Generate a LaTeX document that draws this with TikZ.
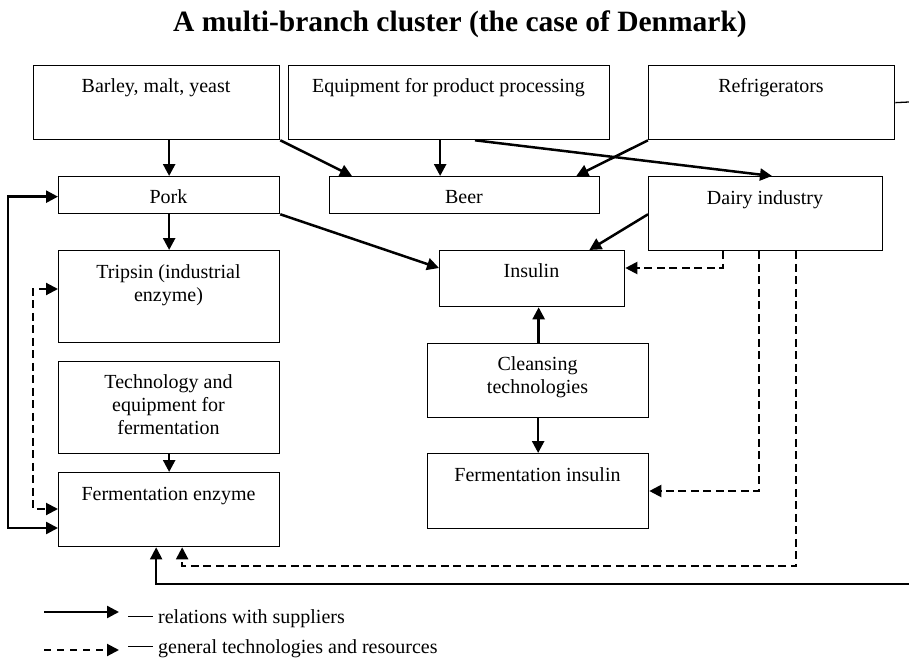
\documentclass[tikz,border=0pt]{standalone}
\usepackage{fontspec}
\setmainfont{Liberation Serif}
\usetikzlibrary{arrows.meta,calc}
\begin{document}
\begin{tikzpicture}[x=1pt,y=-1pt,
  Tri/.tip={Triangle[length=12pt,width=12pt]},
  box/.style 2 args={draw, line width=1.3pt, anchor=north west, inner sep=0pt,
    minimum width=#1, minimum height=#2},
  lbl/.style={font=\fontsize{20}{23}\selectfont, inner sep=0pt, anchor=base},
  sup/.style={line width=2.5pt, -{Tri}},
  gen/.style={line width=2.1pt, dash pattern=on 8pt off 4.5pt, -{Tri}},
  thinsup/.style={line width=1.8pt},
]
\useasboundingbox (0,0) rectangle (909,658);

% title
\node[font=\bfseries\fontsize{29.5}{32}\selectfont, inner sep=0pt, anchor=base] (title)
  at (460,32) {A multi-branch cluster (the case of Denmark)};

% boxes
\node[box={246pt}{74pt}] (barley) at (33,65) {};
\node[box={321pt}{74pt}] (equip) at (288,65) {};
\node[box={246pt}{74pt}] (refrig) at (648,65) {};
\node[box={221pt}{37pt}] (pork) at (58,176) {};
\node[box={270pt}{37pt}] (beer) at (329,176) {};
\node[box={234pt}{74pt}] (dairy) at (648,176) {};
\node[box={221pt}{92pt}] (tripsin) at (58,250) {};
\node[box={221pt}{92pt}] (tech) at (58,361) {};
\node[box={221pt}{74pt}] (enzyme) at (58,472) {};
\node[box={185pt}{56pt}] (insulin) at (439,250) {};
\node[box={221pt}{74pt}] (cleans) at (427,343) {};
\node[box={221pt}{75pt}] (finsulin) at (427,453) {};

% texts
\node[lbl] (tbarley) at (156,93) {Barley, malt, yeast};
\node[lbl] (tequip) at (448.5,93) {Equipment for product processing};
\node[lbl] (trefrig) at (771,93) {Refrigerators};
\node[lbl] (tpork) at (168.5,203) {Pork};
\node[lbl] (tbeer) at (464,203) {Beer};
\node[lbl] (tdairy) at (765,204) {Dairy industry};
\node[lbl] (ttrip) at (168.5,278) {\begin{tabular}[t]{@{}c@{}}Tripsin (industrial\\enzyme)\end{tabular}};
\node[lbl] (ttech) at (168.5,388) {\begin{tabular}[t]{@{}c@{}}Technology and\\equipment for\\fermentation\end{tabular}};
\node[lbl] (tenz) at (168.5,500) {Fermentation enzyme};
\node[lbl] (tins) at (531.5,277) {Insulin};
\node[lbl] (tclean) at (537.5,370) {\begin{tabular}[t]{@{}c@{}}Cleansing\\technologies\end{tabular}};
\node[lbl] (tfins) at (537.5,481) {Fermentation insulin};

% edge coordinates (free ends leaving the picture)
\coordinate (edgeR) at (909,102);
\coordinate (edgeB) at (909,584);

% solid connectors
\draw[sup] (barley.south -| pork.north) -- (pork.north);
\draw[sup] (barley.south east) -- ([xshift=23pt]beer.north west);
\draw[sup] ([xshift=-9pt]equip.south) coordinate (e1) -- (e1 |- beer.north);
\draw[sup] ([xshift=187pt]equip.south west) -- ([xshift=124pt]dairy.north west);
\draw[sup] (refrig.south west) -- ([xshift=-24pt]beer.north east);
\draw[sup] (pork.south) -- (tripsin.north);
\draw[sup] (pork.south east) -- ([yshift=-18pt]insulin.north west);
\draw[sup] ([yshift=37pt]dairy.south west) -- ([xshift=-36pt]insulin.north east);
\draw[sup] ([xshift=0.5pt]cleans.north) coordinate (c1) -- (c1 |- insulin.south);
\draw[sup] (cleans.south) -- (finsulin.north);
\draw[sup] (tech.south) -- (enzyme.north);
\draw[line width=2.5pt, {Tri}-{Tri}] ([yshift=-1.5pt]pork.west) -- ++(-50pt,0)
  |- ([yshift=-56pt]enzyme.north west);
\draw[line width=1.3pt] (refrig.east) -- (edgeR);
\draw[thinsup, -{Tri}] (edgeB) -| ([xshift=-13pt]enzyme.south);

% dashed connectors
\draw[gen] ([xshift=75pt]dairy.south west) |- ([yshift=-18pt]insulin.north east);
\draw[gen] ([xshift=111pt]dairy.south west) |- ([yshift=-38pt]finsulin.north east);
\draw[gen] ([xshift=148pt]dairy.south west) |- ([xshift=13pt,yshift=-19pt]enzyme.south)
  -- ([xshift=13pt]enzyme.south);
\draw[gen, {Tri}-{Tri}] ([yshift=-39pt]tripsin.north west) -- ++(-25pt,0)
  |- ([yshift=-37pt]enzyme.north west);

% legend
\coordinate (l1a) at (44,612);
\coordinate (l1b) at (119,612);
\coordinate (l2a) at (44,650);
\coordinate (l2b) at (119,650);
\draw[sup] (l1a) -- (l1b);
\draw[gen, dash pattern=on 7pt off 6pt] (l2a) -- (l2b);
\node[lbl, anchor=base west] (leg1) at (128,623) {\rule[6pt]{25pt}{1pt} relations with suppliers};
\node[lbl, anchor=base west] (leg2) at (128,653) {\rule[6pt]{25pt}{1pt} general technologies and resources};
\end{tikzpicture}
\end{document}
